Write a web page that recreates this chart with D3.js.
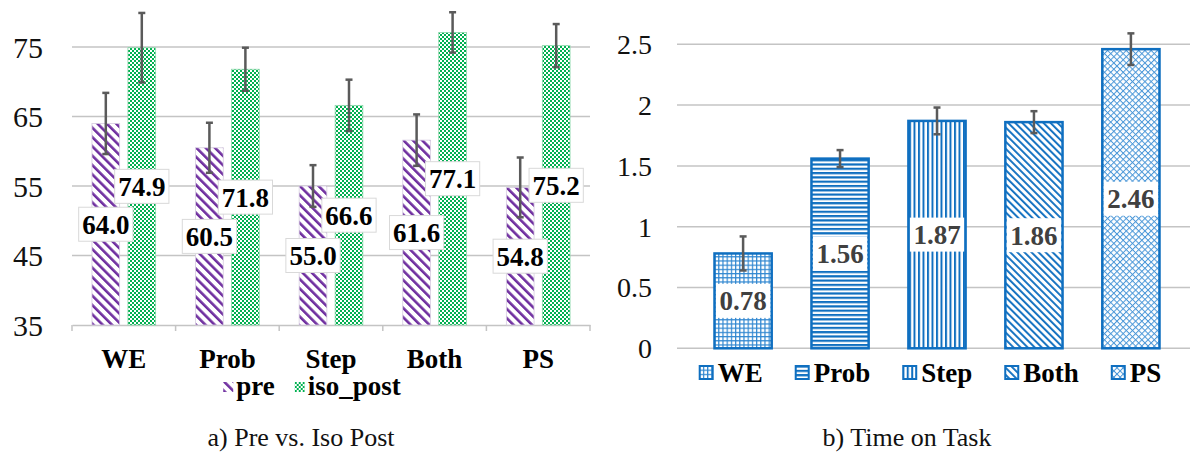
<!DOCTYPE html>
<html>
<head>
<meta charset="utf-8">
<script src="https://cdn.jsdelivr.net/npm/d3@7"></script>
<style>
  body { margin: 0; background: #fff; }
  svg { display: block; }
  #chart text { font-family: "Liberation Serif", Tinos, serif; }
</style>
</head>
<body>
<div id="chart"></div>
<script>
// values
const groups = ["WE", "Prob", "Step", "Both", "PS"];
const preScores = [64.0, 60.5, 55.0, 61.6, 54.8];
const preErr = [4.4, 3.6, 3.0, 3.7, 4.3];
const postScores = [74.9, 71.8, 66.6, 77.1, 75.2];
const postErr = [5.0, 3.1, 3.7, 2.9, 3.1];
const scoreTicks = [35, 45, 55, 65, 75];
const timeValues = [0.78, 1.56, 1.87, 1.86, 2.46];
const timeErr = [0.14, 0.07, 0.11, 0.09, 0.13];
const timeTicks = [0, 0.5, 1, 1.5, 2, 2.5];
const seriesNames = ["pre", "iso_post"];
const captions = ["a) Pre vs. Iso Post", "b) Time on Task"];

const W = 1198, H = 453;
const SERIF = "Liberation Serif";
const GRID = "#c4c4c4", ERR = "#5a5a5a", BLUE = "#0f6fc0";

const svg = d3.select("#chart").append("svg")
  .attr("width", W).attr("height", H);
const defs = svg.append("defs");
const gl = svg.append("g").attr("font-family", SERIF);
const gr = svg.append("g").attr("font-family", SERIF);

function txt(g, x, y, s, size, bold) {
  return g.append("text").attr("x", x).attr("y", y)
    .attr("font-family", SERIF).attr("font-size", size)
    .attr("font-weight", bold ? "bold" : "normal").text(s);
}

/* Fill patterns */
function pattern(id, size, rotate) {
  const p = defs.append("pattern").attr("id", id)
    .attr("patternUnits", "userSpaceOnUse")
    .attr("width", size).attr("height", size);
  if (rotate) p.attr("patternTransform", `rotate(${rotate})`);
  p.append("rect").attr("width", size).attr("height", size).attr("fill", "#fff");
  return p;
}
pattern("p-pre", 6.6, -45).append("rect").attr("width", 2.6).attr("height", 6.6).attr("fill", "#7030a0");
const chk = defs.append("pattern").attr("id", "p-post").attr("patternUnits", "userSpaceOnUse")
  .attr("width", 4).attr("height", 4);
chk.append("rect").attr("width", 4).attr("height", 4).attr("fill", "#00b050");
chk.append("rect").attr("width", 2).attr("height", 2).attr("fill", "#fff");
chk.append("rect").attr("x", 2).attr("y", 2).attr("width", 2).attr("height", 2).attr("fill", "#fff");

const pWE = pattern("p-WE", 4.2);
pWE.append("rect").attr("width", 4.2).attr("height", 1.2).attr("fill", "#2f86d0");
pWE.append("rect").attr("width", 1.2).attr("height", 4.2).attr("fill", "#2f86d0");
pattern("p-Prob", 4.3).append("rect").attr("width", 4.3).attr("height", 2.2).attr("fill", BLUE);
pattern("p-Step", 4.5).append("rect").attr("width", 2).attr("height", 4.5).attr("fill", BLUE);
pattern("p-Both", 5, -45).append("rect").attr("width", 1.9).attr("height", 5).attr("fill", BLUE);
const pPS = pattern("p-PS", 4.4, 45);
pPS.append("rect").attr("width", 4.4).attr("height", 1).attr("fill", "#4a97d8");
pPS.append("rect").attr("width", 1).attr("height", 4.4).attr("fill", "#4a97d8");

function errorBar(g, x, y1, y2) {
  g.append("line").attr("x1", x).attr("x2", x).attr("y1", y1).attr("y2", y2)
    .attr("stroke", ERR).attr("stroke-width", 2.5);
  [y1, y2].forEach(yy => g.append("line").attr("x1", x - 3.5).attr("x2", x + 3.5)
    .attr("y1", yy).attr("y2", yy).attr("stroke", ERR).attr("stroke-width", 2.5));
}

function dataLabel(g, cx, cy, s, color, border) {
  const lab = g.append("g");
  const t = txt(lab, cx, cy, s, 27, true).attr("dy", "0.35em")
    .attr("text-anchor", "middle").attr("fill", color);
  const tw = t.node().getComputedTextLength();
  lab.insert("rect", "text").attr("x", cx - tw / 2 - 3.5).attr("y", cy - 17)
    .attr("width", tw + 7).attr("height", 34).attr("fill", "#fff")
    .attr("stroke", border || "none").attr("stroke-width", 1);
}

/* ---------- a) Pre vs. Iso Post ---------- */
const L = { left: 72, right: 590, top: 12.25, bottom: 325 };
const yL = d3.scaleLinear().domain([35, 80]).range([L.bottom, L.top]);
const xL = d3.scaleBand().domain(groups).range([L.left, L.right]);
const xSub = d3.scaleBand().domain(seriesNames)
  .range([(xL.bandwidth() - 63.7) / 2, (xL.bandwidth() + 63.7) / 2]).paddingInner(0.23);

gl.selectAll(".grid").data(scoreTicks.slice(1)).enter().append("line")
  .attr("x1", L.left).attr("x2", L.right).attr("y1", d => yL(d)).attr("y2", d => yL(d))
  .attr("stroke", GRID).attr("stroke-width", 1.5);

const axL = gl.append("g").attr("transform", `translate(0,${L.bottom})`)
  .call(d3.axisBottom(xL).tickSize(0).tickFormat(""));
axL.select(".domain").attr("stroke", GRID).attr("stroke-width", 1.5);
gl.selectAll(".xtick").data(d3.range(groups.length + 1)).enter().append("line")
  .attr("x1", i => L.left + i * xL.step()).attr("x2", i => L.left + i * xL.step())
  .attr("y1", L.bottom).attr("y2", L.bottom + 6).attr("stroke", GRID).attr("stroke-width", 1.5);

scoreTicks.forEach(d => txt(gl, 43, yL(d), d, 30).attr("dy", "0.35em")
  .attr("text-anchor", "end").attr("fill", "#111"));

groups.forEach(d => txt(gl, xL(d) + xL.bandwidth() / 2, 368, d, 27, true)
  .attr("text-anchor", "middle"));

const seriesL = [
  { key: "pre", vals: preScores, err: preErr, fill: "url(#p-pre)", stroke: "#d6cce0" },
  { key: "iso_post", vals: postScores, err: postErr, fill: "url(#p-post)", stroke: "#8fd9ad" }
];
seriesL.forEach(s => {
  gl.append("g").selectAll("rect").data(groups).enter().append("rect")
    .attr("x", d => xL(d) + xSub(s.key)).attr("width", xSub.bandwidth())
    .attr("y", (d, i) => yL(s.vals[i])).attr("height", (d, i) => L.bottom - yL(s.vals[i]))
    .attr("fill", s.fill).attr("stroke", s.stroke).attr("stroke-width", 0.8);
});
const errL = gl.append("g");
seriesL.forEach(s => groups.forEach((d, i) => {
  errorBar(errL, xL(d) + xSub(s.key) + xSub.bandwidth() / 2,
    yL(s.vals[i] + s.err[i]), yL(s.vals[i] - s.err[i]));
}));
const labL = gl.append("g");
seriesL.forEach(s => groups.forEach((d, i) => {
  dataLabel(labL, xL(d) + xSub(s.key) + xSub.bandwidth() / 2,
    (yL(s.vals[i]) + L.bottom) / 2, s.vals[i].toFixed(1), "#000", "#d9d9d9");
}));

/* legend a */
const legL = gl.append("g");
let cx = 0;
seriesL.forEach(s => {
  const item = legL.append("g").attr("transform", `translate(${cx},0)`);
  item.append("rect").attr("y", 382).attr("width", 10).attr("height", 10).attr("fill", s.fill);
  const t = txt(item, 13, 395, s.key, 27, true);
  cx += 13 + t.node().getComputedTextLength() + 20;
});
legL.attr("transform", `translate(${312 - (cx - 20) / 2},0)`);

/* ---------- b) Time on Task ---------- */
const R = { left: 677, right: 1190, top: 44.3, bottom: 348.3 };
const yR = d3.scaleLinear().domain([0, 2.5]).range([R.bottom, R.top]);
const xR = d3.scaleBand().domain(groups).range([714.5, 1159.5]).paddingInner(0.41).paddingOuter(0);

gr.selectAll(".grid").data(timeTicks).enter().append("line")
  .attr("x1", R.left).attr("x2", R.right).attr("y1", d => yR(d)).attr("y2", d => yR(d))
  .attr("stroke", GRID).attr("stroke-width", 1.5);

timeTicks.forEach(d => txt(gr, 652, yR(d), d, 28).attr("dy", "0.35em")
  .attr("text-anchor", "end").attr("fill", "#111"));

gr.append("g").selectAll("rect").data(groups).enter().append("rect")
  .attr("x", d => xR(d)).attr("width", xR.bandwidth())
  .attr("y", (d, i) => yR(timeValues[i])).attr("height", (d, i) => R.bottom - yR(timeValues[i]))
  .attr("fill", d => `url(#p-${d})`).attr("stroke", BLUE).attr("stroke-width", 2.5);

const errR = gr.append("g");
groups.forEach((d, i) => errorBar(errR, xR(d) + xR.bandwidth() / 2,
  yR(timeValues[i] + timeErr[i]), yR(timeValues[i] - timeErr[i])));
const labR = gr.append("g");
groups.forEach((d, i) => dataLabel(labR, xR(d) + xR.bandwidth() / 2,
  (yR(timeValues[i]) + R.bottom) / 2, timeValues[i].toFixed(2), "#404040"));

/* legend b */
const legR = gr.append("g");
cx = 0;
groups.forEach(d => {
  const item = legR.append("g").attr("transform", `translate(${cx},0)`);
  item.append("rect").attr("x", 1).attr("y", 366).attr("width", 13).attr("height", 13)
    .attr("fill", `url(#p-${d})`).attr("stroke", BLUE).attr("stroke-width", 2);
  const t = txt(item, 19, 382, d, 27, true);
  cx += 19 + t.node().getComputedTextLength() + 32;
});
legR.attr("transform", `translate(${930 - (cx - 32) / 2},0)`);

/* captions */
txt(svg, 301, 446, captions[0], 26).attr("text-anchor", "middle").attr("fill", "#111");
txt(svg, 907, 446, captions[1], 26).attr("text-anchor", "middle").attr("fill", "#111");
</script>
</body>
</html>
